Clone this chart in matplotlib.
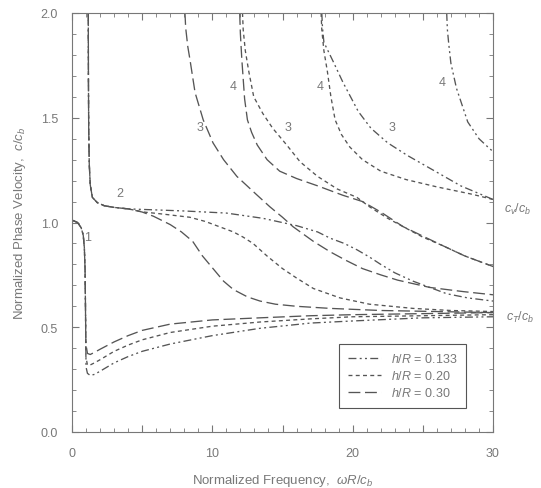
import numpy as np
import matplotlib
matplotlib.use("Agg")
import matplotlib.pyplot as plt
from matplotlib.ticker import MultipleLocator, FuncFormatter

plt.rcParams['font.family'] = ['Liberation Sans', 'DejaVu Sans']
plt.rcParams['mathtext.fontset'] = 'custom'
plt.rcParams['mathtext.rm'] = 'Liberation Sans'
plt.rcParams['mathtext.it'] = 'Liberation Sans:italic'

# shared parts of the branches (mode 1 drop, mode 2 vertical + flat part)
m1_x_common = [0.05, 0.4, 0.65, 0.8, 0.88, 0.93, 0.96]
m1_y_common = [1.01, 1.0, 0.975, 0.94, 0.88, 0.78, 0.6]
m2_x_common = [1.16, 1.17, 1.19, 1.23, 1.3, 1.45, 1.8, 2.3, 3.0, 4.0]
m2_y_common = [2.0, 1.7, 1.45, 1.28, 1.18, 1.12, 1.095, 1.08, 1.072, 1.065]

# h/R = 0.30
m1_x_030 = [0.99, 1.1, 1.3, 1.6, 2, 3, 4, 5, 7, 10, 13.4, 17, 20, 25, 30]
m1_y_030 = [0.42, 0.375, 0.37, 0.38, 0.395, 0.43, 0.46, 0.485, 0.515, 0.535, 0.545, 0.555, 0.56, 0.565, 0.57]
m2_x_030 = [5.0, 5.8, 7.0, 7.8, 8.6, 9.3, 10.05, 10.8, 11.5, 12.5, 13.4, 14.5, 16, 18.4, 22, 26, 30]
m2_y_030 = [1.05, 1.03, 0.99, 0.955, 0.91, 0.84, 0.78, 0.72, 0.68, 0.645, 0.625, 0.61, 0.60, 0.59, 0.58, 0.575, 0.57]
m3_x_030 = [8.05, 8.1, 8.25, 8.4, 8.77, 9.35, 10.05, 10.8, 11.75, 13.2, 14.1, 15.0, 15.75, 17.2, 18.4, 19.5, 20.7, 22, 23.2, 25.5, 27.9, 30]
m3_y_030 = [2.0, 1.93, 1.84, 1.78, 1.62, 1.49, 1.38, 1.30, 1.22, 1.13, 1.075, 1.025, 0.98, 0.91, 0.86, 0.82, 0.78, 0.75, 0.725, 0.69, 0.67, 0.655]
m4_x_030 = [11.95, 12.0, 12.1, 12.3, 12.5, 12.8, 13.2, 13.9, 14.8, 16, 17.5, 19.3, 20.7, 22, 23.6, 25, 26.4, 28, 30]
m4_y_030 = [2.0, 1.9, 1.78, 1.59, 1.49, 1.43, 1.37, 1.30, 1.245, 1.21, 1.175, 1.13, 1.10, 1.05, 0.98, 0.935, 0.89, 0.84, 0.79]

# h/R = 0.20
m1_x_020 = [0.99, 1.1, 1.3, 1.6, 2, 3, 4, 5, 7, 10, 13.4, 17, 20, 25, 30]
m1_y_020 = [0.36, 0.32, 0.32, 0.33, 0.345, 0.385, 0.415, 0.44, 0.475, 0.505, 0.525, 0.54, 0.55, 0.555, 0.56]
m2_x_020 = [5.1, 6.5, 8.4, 9.5, 10.5, 11.5, 12.2, 12.9, 13.9, 15, 16, 17.2, 19.1, 21.2, 24.3, 27, 30]
m2_y_020 = [1.05, 1.04, 1.025, 1.005, 0.98, 0.955, 0.93, 0.90, 0.84, 0.78, 0.735, 0.685, 0.64, 0.61, 0.59, 0.58, 0.575]
m3_x_020 = [12.15, 12.2, 12.35, 12.6, 12.95, 13.6, 14.3, 15.3, 16.25, 17.5, 18.9, 20.3, 21.2, 22.5, 23.6, 25, 26.4, 28, 30]
m3_y_020 = [2.0, 1.92, 1.82, 1.72, 1.60, 1.52, 1.45, 1.37, 1.29, 1.22, 1.16, 1.12, 1.075, 1.02, 0.98, 0.93, 0.89, 0.84, 0.79]
m4_x_020 = [17.75, 17.8, 17.95, 18.2, 18.45, 18.75, 19.2, 19.8, 20.7, 22, 23.8, 26, 28.5, 30]
m4_y_020 = [2.0, 1.92, 1.82, 1.72, 1.60, 1.49, 1.42, 1.36, 1.30, 1.245, 1.205, 1.17, 1.135, 1.11]

# h/R = 0.133
m1_x_0133 = [1.0, 1.1, 1.3, 1.6, 2, 3, 4, 5, 7, 10, 13.4, 17, 20, 25, 30]
m1_y_0133 = [0.31, 0.28, 0.27, 0.275, 0.29, 0.33, 0.36, 0.385, 0.42, 0.46, 0.495, 0.52, 0.53, 0.545, 0.55]
m2_x_0133 = [6, 8, 11, 13.6, 16, 17.5, 18.4, 19.4, 20.3, 21.2, 22, 23, 24.3, 25.5, 26.7, 28.2, 30]
m2_y_0133 = [1.06, 1.055, 1.045, 1.02, 0.985, 0.955, 0.925, 0.90, 0.87, 0.835, 0.80, 0.76, 0.72, 0.69, 0.66, 0.64, 0.625]
m3_x_0133 = [17.8, 17.85, 17.95, 18.6, 19.3, 20.4, 21.3, 22.5, 23.9, 26, 27.7, 30]
m3_y_0133 = [2.0, 1.93, 1.86, 1.77, 1.67, 1.53, 1.45, 1.38, 1.32, 1.24, 1.175, 1.11]
m4_x_0133 = [26.7, 26.75, 26.85, 27.0, 27.4, 28.2, 29.0, 29.8, 30]
m4_y_0133 = [2.0, 1.92, 1.85, 1.76, 1.64, 1.48, 1.40, 1.35, 1.34]

line_col = '#555555'
text_col = '#787878'
styles = {
    '0.133': (0, (6, 2.5, 1.5, 2.5, 1.5, 2.5)),
    '0.20': (0, (3, 2.5)),
    '0.30': (0, (9, 3.5)),
}

fig = plt.figure(figsize=(5.41, 4.89), dpi=100)
ax = fig.add_axes([72 / 541, 1 - 433 / 489, 421 / 541, 419 / 489])

curves = {
    '0.133': [(m1_x_common + m1_x_0133, m1_y_common + m1_y_0133),
              (m2_x_common + m2_x_0133, m2_y_common + m2_y_0133),
              (m3_x_0133, m3_y_0133), (m4_x_0133, m4_y_0133)],
    '0.20': [(m1_x_common + m1_x_020, m1_y_common + m1_y_020),
             (m2_x_common + m2_x_020, m2_y_common + m2_y_020),
             (m3_x_020, m3_y_020), (m4_x_020, m4_y_020)],
    '0.30': [(m1_x_common + m1_x_030, m1_y_common + m1_y_030),
             (m2_x_common + m2_x_030, m2_y_common + m2_y_030),
             (m3_x_030, m3_y_030), (m4_x_030, m4_y_030)],
}

for key, branches in curves.items():
    for i, (xs, ys) in enumerate(branches):
        ax.plot(xs, ys, color=line_col, lw=0.95, linestyle=styles[key],
                label=(r'$h/R$ = ' + key) if i == 0 else None)

# mode numbers
mode_labels = [(1.14, 0.93, '1'), (3.4, 1.14, '2'),
               (9.1, 1.455, '3'), (11.5, 1.65, '4'),
               (15.4, 1.455, '3'), (17.7, 1.65, '4'),
               (22.8, 1.455, '3'), (26.4, 1.67, '4')]
for x, y, s in mode_labels:
    ax.text(x, y, s, color=text_col, fontsize=9, ha='center', va='center')

ax.text(30.8, 1.065, r'$c_v/c_b$', color=text_col, fontsize=9, va='center', clip_on=False)
ax.text(30.9, 0.55, r'$c_T/c_b$', color=text_col, fontsize=9, va='center', clip_on=False)

ax.set_xlim(0, 30)
ax.set_ylim(0, 2.0)
ax.xaxis.set_major_locator(MultipleLocator(5))
ax.xaxis.set_minor_locator(MultipleLocator(1))
ax.xaxis.set_major_formatter(FuncFormatter(lambda v, p: '%d' % v if int(round(v)) % 10 == 0 else ''))
ax.yaxis.set_major_locator(MultipleLocator(0.5))
ax.yaxis.set_minor_locator(MultipleLocator(0.1))
ax.yaxis.set_major_formatter(FuncFormatter(lambda v, p: '%.1f' % v))
ax.tick_params(which='both', direction='in', top=True, right=True, colors='#777777',
               labelcolor=text_col, labelsize=9)
ax.tick_params(which='major', length=5)
ax.tick_params(axis='x', which='major', pad=11)
ax.tick_params(axis='y', which='major', pad=10)
ax.tick_params(which='minor', length=3)
for sp in ax.spines.values():
    sp.set_color('#777777')

ax.set_xlabel(r'Normalized Frequency,  $\omega R/c_b$', color=text_col, fontsize=9.5, labelpad=9)
ax.set_ylabel(r'Normalized Phase Velocity,  $c/c_b$', color=text_col, fontsize=9.5, labelpad=9)

leg = ax.legend(loc='lower right', bbox_to_anchor=(0.95, 0.043), fontsize=9, fancybox=False,
                edgecolor='#555555', framealpha=1, handlelength=2.6, borderpad=0.7, labelspacing=0.3)
for t in leg.get_texts():
    t.set_color(text_col)
leg.get_frame().set_linewidth(0.8)

fig.savefig('out.png', dpi=100)
